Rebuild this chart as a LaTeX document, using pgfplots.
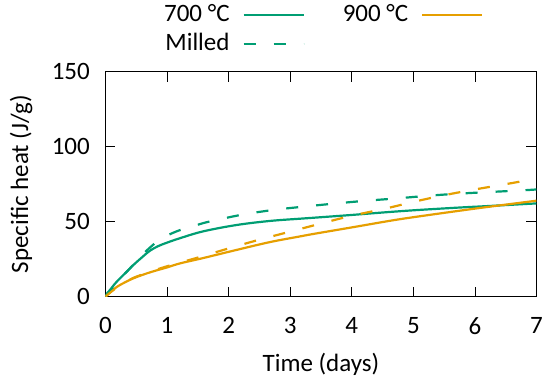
\documentclass[border=0pt]{standalone}
\usepackage{fontspec}
\setmainfont{Carlito}
\usepackage{pgfplots}
\pgfplotsset{compat=1.18}
\definecolor{cgreen}{RGB}{0,158,115}
\definecolor{corange}{RGB}{230,159,0}
\newcommand{\F}{\fontsize{25bp}{29bp}\selectfont}
\begin{document}
\begin{tikzpicture}
\begin{axis}[
  scale only axis,
  width=431bp, height=225bp,
  xmin=0, xmax=7, ymin=0, ymax=150,
  xtick={0,1,...,7}, ytick={0,50,100,150},
  xtick pos=both, ytick pos=both,
  xticklabel pos=lower, yticklabel pos=left,
  tick align=inside,
  major tick length=10bp,
  minor tick num=0,
  tick style={black, line width=0.8bp},
  axis line style={black, line width=0.8bp},
  /pgf/number format/assume math mode=true,
  xticklabel style={font=\F, inner sep=0pt, anchor=north, yshift=-20.5bp},
  yticklabel style={font=\F, inner sep=0pt, anchor=east, xshift=-15.5bp},
  xlabel={Time (days)},
  ylabel={Specific heat (J/g)},
  xlabel style={font=\F, inner sep=0pt, at={(axis description cs:0.5,0)}, anchor=base, yshift=-74.3bp},
  ylabel style={font=\F, inner sep=0pt, at={(axis description cs:-0.1798,0.5)}, anchor=base},
  legend plot pos=right,
  legend columns=2,
  legend cell align=right,
  legend image code/.code={\draw[#1] (0bp,0bp) -- (60bp,0bp);},
  legend style={at={(0.136,1.303)}, anchor=north west, draw=none, fill=none,
    inner sep=0pt, outer sep=0pt, font=\F, row sep=5bp,
    nodes={inner sep=0pt, text height=18bp, text depth=5.5bp},
    /tikz/every odd column/.append style={column sep=13bp},
    /tikz/every even column/.append style={column sep=38bp}},
]
% 700 C
\addplot[cgreen, line width=2.2bp, smooth, tension=0.6] coordinates {
(0,0) (0.03,2.5) (0.073,4.5) (0.15,8.5) (0.235,12.2) (0.45,21) (0.6,26.5) (0.72,30.6) (0.85,33.6) (0.99,35.9) (1.21,39) (1.59,43.6) (2.13,47.8) (2.67,50.5) (3.16,52) (3.4,52.7) (4.0,54.5) (4.46,56) (5.0,57.6) (5.73,59.4) (6.2,60.4) (7.0,62.2)
};
\addlegendentry{700 °C}
% 900 C
\addplot[corange, line width=2.2bp, smooth, tension=0.6] coordinates {
(0,0) (0.03,1.5) (0.073,2.9) (0.15,5.5) (0.235,7.8) (0.45,12.2) (0.72,16.2) (0.99,19.4) (1.21,22.2) (1.59,25.8) (2.13,31.2) (2.67,36.4) (3.16,40.2) (3.4,42) (4.0,46.2) (4.62,50.6) (5.0,53) (5.73,57.2) (6.2,59.8) (7.0,64)
};
\addlegendentry{900 °C}
% Milled 700
\addplot[cgreen, line width=2.2bp, smooth, tension=0.6, dash pattern=on 12bp off 18bp] coordinates {
(0,0) (0.1,5) (0.25,12.5) (0.4,19) (0.6,28) (0.77,34.5) (0.9,38.6) (1.0,40.8) (1.21,44.4) (1.5,48) (1.70,50.2) (2.21,54.6) (2.72,57.8) (3.21,60) (3.75,62.2) (4.24,64) (4.75,65.6) (5.27,67.4) (5.78,68.8) (6.29,69.9) (6.81,71) (7.0,71.5)
};
\addlegendentry{Milled}
% Milled 900
\addplot[corange, line width=2.2bp, smooth, tension=0.6, dash pattern=on 12bp off 18bp, forget plot] coordinates {
(0,0) (0.1,3.5) (0.25,8) (0.45,12.5) (0.72,16.5) (1.0,20.3) (1.51,26.2) (2.0,32.2) (2.48,37.8) (2.99,43.3) (3.51,48.9) (4.0,54) (4.51,58.4) (5.0,63.2) (5.48,67.5) (6.0,71.5) (6.51,75.1) (7.0,78.7)
};
\end{axis}
\pgfresetboundingbox
\path (-105.5bp,-84.3bp) rectangle (444.5bp,296.7bp);
\end{tikzpicture}
\end{document}
